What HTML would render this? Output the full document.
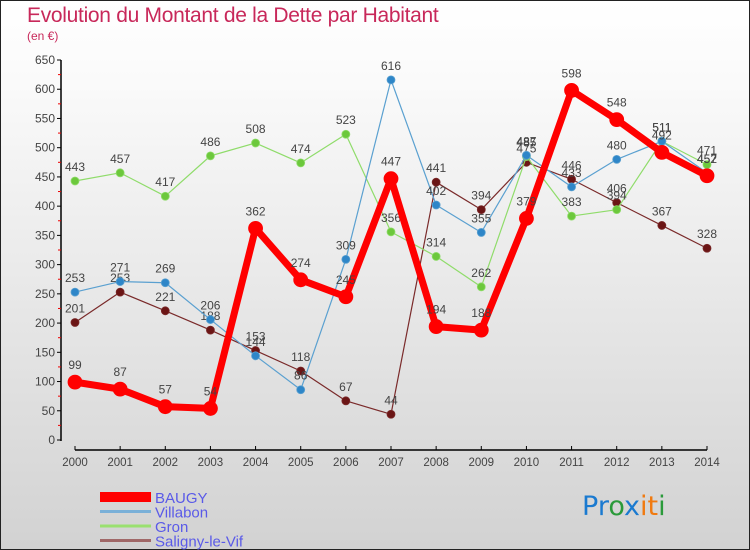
<!DOCTYPE html>
<html><head><meta charset="utf-8"><style>
body{margin:0;width:750px;height:550px;overflow:hidden;font-family:"Liberation Sans",sans-serif}
#wrap{position:relative;width:748px;height:548px;border:1px solid #222;background:linear-gradient(#fff,#fafafa 15%,#d2d2d2)}
.t{position:absolute;color:#c8285a}
</style></head><body>
<div id="wrap">
<div class="t" style="left:26px;top:3px;font-size:21px;font-weight:300;letter-spacing:-0.3px">Evolution du Montant de la Dette par Habitant</div>
<div class="t" style="left:26px;top:28px;font-size:12px">(en €)</div>
<svg id="c" width="750" height="550" style="position:absolute;left:-1px;top:-1px"></svg>
</div>
<script>
const years=[2000,2001,2002,2003,2004,2005,2006,2007,2008,2009,2010,2011,2012,2013,2014];
const yTicks=[0,50,100,150,200,250,300,350,400,450,500,550,600,650];
const baugy=[99,87,57,54,362,274,245,447,194,188,379,598,548,492,452];
const villabon=[253,271,269,206,144,86,309,616,402,355,487,433,480,511,457];
const gron=[443,457,417,486,508,474,523,356,314,262,485,383,394,511,471];
const saligny=[201,253,221,188,153,118,67,44,441,394,475,446,406,367,328];
const names=["BAUGY","Villabon","Gron","Saligny-le-Vif"];
const NS="http://www.w3.org/2000/svg";
const svg=document.getElementById('c');
const X=i=>75+i*(707-75)/14;
const Y=v=>440-v*(380/650);
function el(t,a,p){const e=document.createElementNS(NS,t);for(const k in a)e.setAttribute(k,a[k]);(p||svg).appendChild(e);return e;}
// axes
const ax=el('g',{});


el('line',{x1:61,y1:60,x2:61,y2:441,stroke:'#000','stroke-width':1.5},ax);
yTicks.forEach((v,i)=>{
  el('line',{x1:57,x2:61,y1:Y(v),y2:Y(v),stroke:'#000'},ax);
  if(i<yTicks.length-1)el('line',{x1:58,x2:61,y1:Y(v+25),y2:Y(v+25),stroke:'#e00'},ax);
  const t=el('text',{x:55,y:Y(v)+4,'text-anchor':'end','font-size':12,fill:'#444'},ax);t.textContent=v;
});
const xa=el('g',{});


el('line',{x1:75,y1:450,x2:707,y2:450,stroke:'#000','stroke-width':1.5},xa);
years.forEach((y,i)=>{
  el('line',{x1:X(i),x2:X(i),y1:446,y2:450,stroke:'#000'},xa);
  const t=el('text',{x:X(i),y:466,'text-anchor':'middle','font-size':11.5,fill:'#444'},xa);t.textContent=y;
});
function series(data,color,dot,w,r,name){
  const g=el('g',{});
  
  
  el('polyline',{points:data.map((v,i)=>X(i)+','+Y(v)).join(' '),fill:'none',stroke:color,'stroke-width':w,'stroke-linejoin':'round'},g);
  data.forEach((v,i)=>{
    const c=el('circle',{cx:X(i),cy:Y(v),r:r,fill:dot,stroke:color,'stroke-width':0.8},g);
    
    
    const t=el('text',{x:X(i),y:Y(v)-r-6,'text-anchor':'middle','font-size':12,fill:'#444'},g);t.textContent=v;
  });
}
series(saligny,'#7a2a2a','#6b1515',1.2,4,'saligny');
series(gron,'#8fdc6a','#6cc83c',1.2,4,'gron');
series(villabon,'#5aa0d0','#2e86c8',1.2,4,'villabon');
series(baugy,'#f00','#f00',7,7,'baugy');
// legend
const lg=el('g',{});


const lc=['#f00','#7ab0d8','#9ae070','#a06868'],lw=[10,3,3,3];
names.forEach((n,i)=>{
  const y=497+i*14.5;
  el('line',{x1:100,x2:151,y1:y,y2:y,stroke:lc[i],'stroke-width':lw[i]},lg);
  const t=el('text',{x:155,y:y+6,'font-size':15,fill:'#5a5ae8'},lg);t.textContent=n;
});
const lo=el('text',{x:582,y:515,'font-size':27,'font-family':'DejaVu Sans, sans-serif'});


[['P','#1a7ad0'],['r','#1a7ad0'],['o','#2a9a3a'],['x','#1a7ad0'],['i','#f07a10'],['t','#f07a10'],['i','#2a9a3a']].forEach(([ch,c])=>{const s=el('tspan',{fill:c},lo);s.textContent=ch;});
</script>
</body></html>
